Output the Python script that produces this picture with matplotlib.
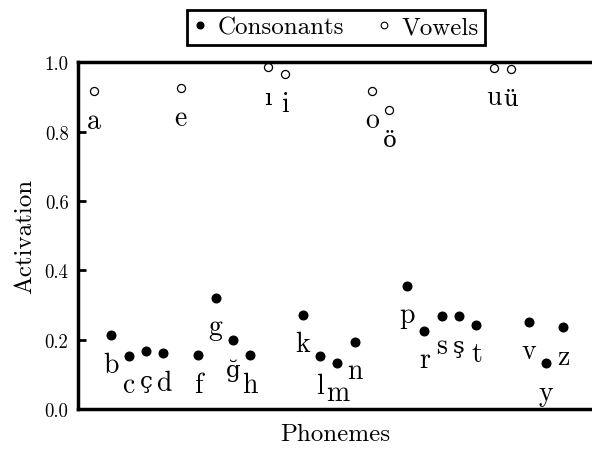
import matplotlib
matplotlib.use("Agg")
import matplotlib.pyplot as plt
from matplotlib.lines import Line2D
from matplotlib.ticker import FormatStrFormatter

# Turkish phonemes (no "j") and their activation values
phonemes = ["a", "b", "c", "ç", "d", "e", "f", "g", "ğ", "h", "ı", "i", "k", "l",
            "m", "n", "o", "ö", "p", "r", "s", "ş", "t", "u", "ü", "v", "y", "z"]
activation = [0.916, 0.214, 0.154, 0.169, 0.162, 0.925, 0.156, 0.322, 0.201, 0.156,
              0.986, 0.965, 0.273, 0.153, 0.133, 0.195, 0.918, 0.863, 0.356, 0.227,
              0.268, 0.270, 0.243, 0.984, 0.981, 0.252, 0.133, 0.236]
vowels = ["a", "e", "ı", "i", "o", "ö", "u", "ü"]
yticks = [0.0, 0.2, 0.4, 0.6, 0.8, 1.0]

plt.rcParams["font.family"] = ["cmr10", "DejaVu Serif"]
plt.rcParams["mathtext.fontset"] = "cm"
plt.rcParams["axes.formatter.use_mathtext"] = True

LABEL_SIZE = 20

fig = plt.figure(figsize=(5.92, 4.52), dpi=100)
ax = fig.add_axes([0.131, 0.0923, 0.869, 0.7677])

xs = list(range(len(phonemes)))
for x, ph, val in zip(xs, phonemes, activation):
    if ph in vowels:
        ax.plot(x, val, "o", ms=5.8, mfc="white", mec="black", mew=0.9, clip_on=False)
    else:
        ax.plot(x, val, "o", ms=6.2, mfc="black", mec="black", clip_on=False)
    # cmr10 has no Turkish letters: draw those in DejaVu Serif, scaled to the same x-height
    if ph.isascii():
        font = dict(family="cmr10", fontsize=LABEL_SIZE)
    else:
        font = dict(family="DejaVu Serif", fontsize=LABEL_SIZE * 0.83)
    ax.annotate(ph, (x, val), xytext=(0, -26.3), textcoords="offset points",
                ha="center", va="baseline", **font)

ax.set_xlim(-0.94, 28.65)
ax.set_ylim(0, 1)
ax.set_xticks([])
ax.set_yticks(yticks)
ax.yaxis.set_major_formatter(FormatStrFormatter("%.1f"))
ax.tick_params(axis="y", direction="in", length=6, width=2, pad=6.5, labelsize=13.5)
ax.spines["right"].set_visible(False)
for side in ["left", "top", "bottom"]:
    ax.spines[side].set_linewidth(2.5)

ax.set_xlabel("Phonemes", fontsize=18, labelpad=10)
ax.set_ylabel("Activation", fontsize=18, labelpad=6)

handles = [
    Line2D([], [], ls="none", marker="o", ms=4.8, mfc="black", mec="black"),
    Line2D([], [], ls="none", marker="o", ms=4.8, mfc="white", mec="black", mew=0.8),
]
leg = ax.legend(handles, ["Consonants", "Vowels"], loc="center", ncol=2,
                bbox_to_anchor=(336 / 592, 1 - 28.4 / 452), bbox_transform=fig.transFigure,
                fontsize=18, frameon=True, fancybox=False, framealpha=1,
                handlelength=0.6, handletextpad=0.4, columnspacing=1.3,
                borderpad=0.25, borderaxespad=0)
leg.get_frame().set_edgecolor("black")
leg.get_frame().set_linewidth(2)

fig.savefig("out.png", dpi=100)
